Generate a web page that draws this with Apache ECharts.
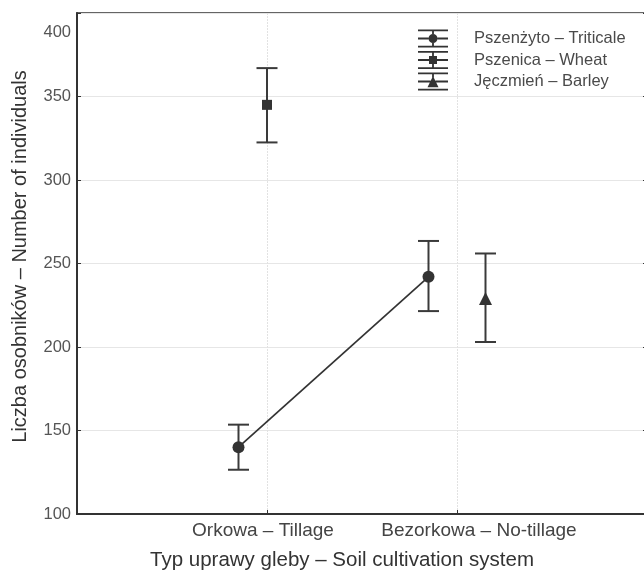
<!DOCTYPE html>
<html><head><meta charset="utf-8">
<script src="https://cdn.jsdelivr.net/npm/echarts@6/dist/echarts.min.js"></script>
<style>html,body{margin:0;padding:0;background:#fff}#c{width:644px;height:576px}</style>
</head><body><div id="c"></div>
<script>
// ---- data ----
const categories = ['Orkowa – Tillage', 'Bezorkowa – No-tillage'];
const seriesNames = ['Pszenżyto – Triticale', 'Pszenica – Wheat', 'Jęczmień – Barley'];
// each row: [categoryIndex, mean, lower, upper]
const triticale = [[0, 140, 126.5, 153.5], [1, 242, 221.5, 263.5]];
const wheat = [[0, 345, 322.5, 367]];
const barley = [[1, 229, 203, 256]];
const yTicks = [100, 150, 200, 250, 300, 350, 400];
const xAxisTitle = 'Typ uprawy gleby – Soil cultivation system';
const yAxisTitle = 'Liczba osobników – Number of individuals';

// ---- layout ----
const dodge = [-0.15, 0, 0.15];
const ink = '#333';
const errInk = '#3a3a3a';
const FONT = 'Liberation Sans, Arial, sans-serif';

function pts(rows, k) { return rows.map(r => [r[0] + 1 + dodge[k], r[1]]); }
function errs(rows, k) { return rows.map(r => [r[0] + 1 + dodge[k], r[2], r[3]]); }

function errRender(params, api) {
  const x = api.value(0), lo = api.value(1), hi = api.value(2);
  const a = api.coord([x, lo]), b = api.coord([x, hi]);
  const w = 10.5;
  const style = { stroke: errInk, lineWidth: 2, fill: null };
  return { type: 'group', children: [
    { type: 'line', shape: { x1: a[0], y1: a[1], x2: b[0], y2: b[1] }, style },
    { type: 'line', shape: { x1: a[0] - w, y1: a[1], x2: a[0] + w, y2: a[1] }, style },
    { type: 'line', shape: { x1: b[0] - w, y1: b[1], x2: b[0] + w, y2: b[1] }, style }
  ]};
}

const lines = 'M0 0H30V1.8H0Z M0 16.2H30V18H0Z ';
const iconCircle = 'path://' + lines + 'M0 8.1H10.5V9.9H0Z M19.5 8.1H30V9.9H19.5Z M14.1 1.8H15.9V4.5H14.1Z M14.1 13.5H15.9V16.2H14.1Z M10.5 9A4.5 4.5 0 1 0 19.5 9A4.5 4.5 0 1 0 10.5 9Z';
const iconSquare = 'path://' + lines + 'M0 8.1H11V9.9H0Z M19 8.1H30V9.9H19Z M14.1 1.8H15.9V5H14.1Z M14.1 13H15.9V16.2H14.1Z M11 5H19V13H11Z';
const iconTri = 'path://' + lines + 'M0 8.1H12.5V9.9H0Z M17.5 8.1H30V9.9H17.5Z M14.1 1.8H15.9V5H14.1Z M15 3.5L20.5 14.8L9.5 14.8Z';

const labelPad = ['{a|', '{b|'];
const chart = echarts.init(document.getElementById('c'), null, { renderer: 'canvas' });
chart.setOption({
  animation: false,
  backgroundColor: '#fff',
  textStyle: { fontFamily: FONT },
  grid: { left: 77, top: 13, width: 570, height: 501, outerBoundsMode: 'none', containLabel: false,
          show: true, borderColor: ink, borderWidth: 1.5, backgroundColor: 'transparent' },
  legend: {
    orient: 'vertical', left: 413, top: 24.5, itemWidth: 30, itemHeight: 18, itemGap: 3.5,
    selectedMode: false,
    textStyle: { fontSize: 16.5, color: '#4a4a4a', padding: [0, 0, 0, 21], fontFamily: FONT },
    itemStyle: { borderWidth: 0 },
    data: [
      { name: seriesNames[0], icon: iconCircle },
      { name: seriesNames[1], icon: iconSquare },
      { name: seriesNames[2], icon: iconTri }
    ]
  },
  xAxis: [{
    type: 'value', min: 0, max: 3, interval: 1,
    name: xAxisTitle, nameLocation: 'middle', nameGap: 36,
    nameTextStyle: { fontSize: 20.5, color: '#333', padding: [0, 40, 0, 0] },
    axisLine: { show: true, lineStyle: { color: ink, width: 2 } },
    axisTick: { show: true, inside: true, length: 4, lineStyle: { color: ink } },
    axisLabel: {
      margin: 7, fontSize: 19, color: '#444',
      formatter: v => (v >= 1 && v <= categories.length) ? labelPad[v - 1] + categories[v - 1] + '}' : '',
      rich: { a: { fontSize: 19, color: '#444', padding: [0, 8, 0, 0] }, b: { fontSize: 19, color: '#444', padding: [0, 0, 0, 44] } }
    },
    splitLine: { show: true, lineStyle: { color: '#e2e2e2', type: [2, 1], width: 1 } }
  }],
  yAxis: [{
    type: 'value', min: yTicks[0], max: yTicks[yTicks.length - 1], interval: 50,
    name: yAxisTitle, nameLocation: 'middle', nameGap: 47,
    nameTextStyle: { fontSize: 20, color: '#333', padding: [0, 0, 0, 14] },
    axisLine: { show: true, lineStyle: { color: ink, width: 2 } },
    axisTick: { show: true, inside: true, length: 4, lineStyle: { color: ink } },
    axisLabel: {
      margin: 6, fontSize: 16.5, color: '#555',
      formatter: v => v === yTicks[yTicks.length - 1] ? '{t|' + v + '}' : String(v),
      rich: { t: { fontSize: 16.5, color: '#555', padding: [38, 0, 0, 0] } }
    },
    splitLine: { show: true, lineStyle: { color: '#e6e6e6', width: 1 } }
  }, {
    type: 'value', position: 'right', min: yTicks[0], max: yTicks[yTicks.length - 1], interval: 50,
    axisLine: { show: true, lineStyle: { color: ink, width: 2 } },
    axisTick: { show: true, inside: true, length: 4, lineStyle: { color: ink } },
    axisLabel: { show: false }, splitLine: { show: false }
  }],
  series: [
    { type: 'custom', name: 'err0', renderItem: errRender, data: errs(triticale, 0), encode: { x: 0, y: [1, 2] }, z: 3 },
    { type: 'custom', name: 'err1', renderItem: errRender, data: errs(wheat, 1), encode: { x: 0, y: [1, 2] }, z: 3 },
    { type: 'custom', name: 'err2', renderItem: errRender, data: errs(barley, 2), encode: { x: 0, y: [1, 2] }, z: 3 },
    { type: 'line', name: seriesNames[0], data: pts(triticale, 0), symbol: 'circle', symbolSize: 12,
      itemStyle: { color: ink, borderWidth: 0, opacity: 1 }, lineStyle: { color: ink, width: 1.7 }, z: 4 },
    { type: 'scatter', name: seriesNames[1], data: pts(wheat, 1), symbol: 'rect', symbolSize: 10,
      itemStyle: { color: ink, opacity: 1 }, z: 4 },
    { type: 'scatter', name: seriesNames[2], data: pts(barley, 2), symbol: 'triangle', symbolSize: [13, 13],
      itemStyle: { color: ink, opacity: 1 }, z: 4 }
  ]
});
</script></body></html>
